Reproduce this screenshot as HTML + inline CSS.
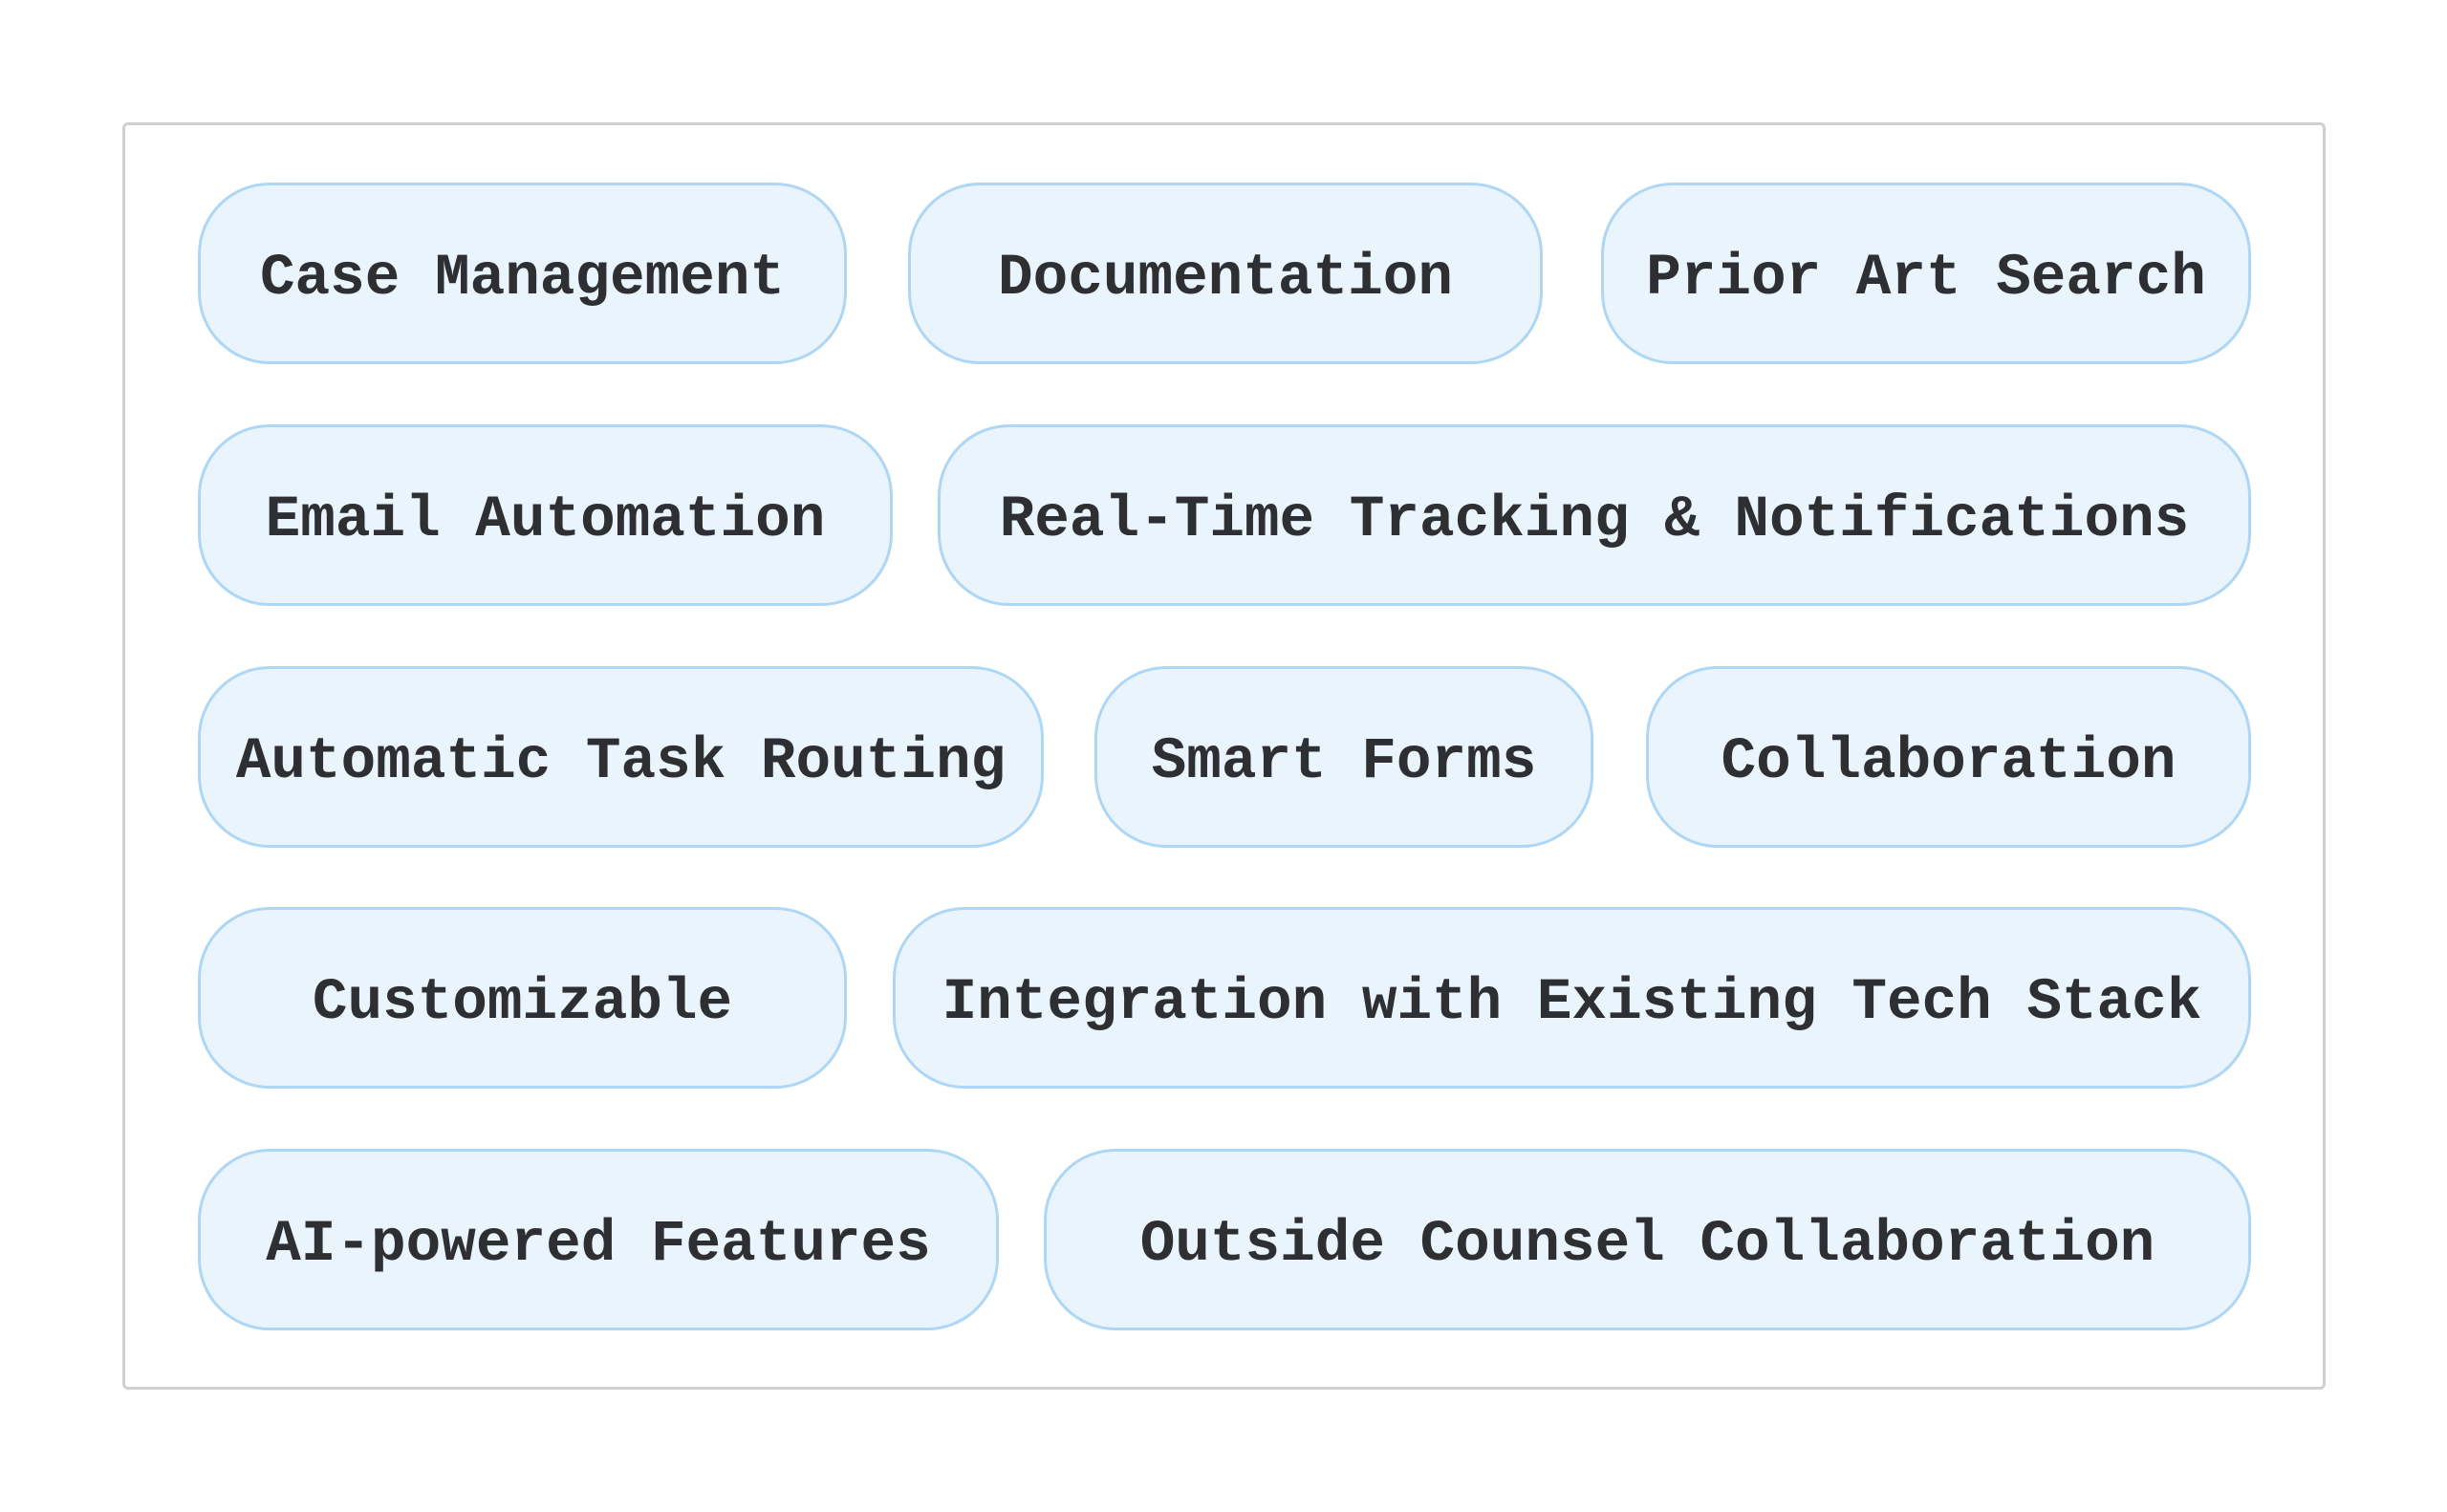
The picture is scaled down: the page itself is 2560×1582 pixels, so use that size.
<!DOCTYPE html>
<html><head><meta charset="utf-8"><style>
html,body{margin:0;padding:0;background:#fff;width:2560px;height:1582px;overflow:hidden;position:relative}
.frame{position:absolute;left:128px;top:128px;width:2305px;height:1326px;border:3px solid #cfcfcf;border-radius:6px;box-sizing:border-box}
.b{position:absolute;height:190px;box-sizing:border-box;border:3px solid #aed6f5;background:#e9f4fd;border-radius:75px;display:flex;align-items:center;justify-content:center;padding-top:10px;font-family:"Liberation Mono",monospace;font-weight:bold;font-size:61px;color:#2d2f33;white-space:nowrap}
</style></head><body>
<div class="frame"></div>
<div class="b" style="left:207px;top:191px;width:679px">Case Management</div>
<div class="b" style="left:950px;top:191px;width:664px">Documentation</div>
<div class="b" style="left:1675px;top:191px;width:680px">Prior Art Search</div>
<div class="b" style="left:207px;top:444px;width:727px">Email Automation</div>
<div class="b" style="left:981px;top:444px;width:1374px">Real-Time Tracking &amp; Notifications</div>
<div class="b" style="left:207px;top:697px;width:885px">Automatic Task Routing</div>
<div class="b" style="left:1145px;top:697px;width:522px">Smart Forms</div>
<div class="b" style="left:1722px;top:697px;width:633px">Collaboration</div>
<div class="b" style="left:207px;top:949px;width:679px">Customizable</div>
<div class="b" style="left:934px;top:949px;width:1421px">Integration with Existing Tech Stack</div>
<div class="b" style="left:207px;top:1202px;width:838px">AI-powered Features</div>
<div class="b" style="left:1092px;top:1202px;width:1263px">Outside Counsel Collaboration</div>
</body></html>
